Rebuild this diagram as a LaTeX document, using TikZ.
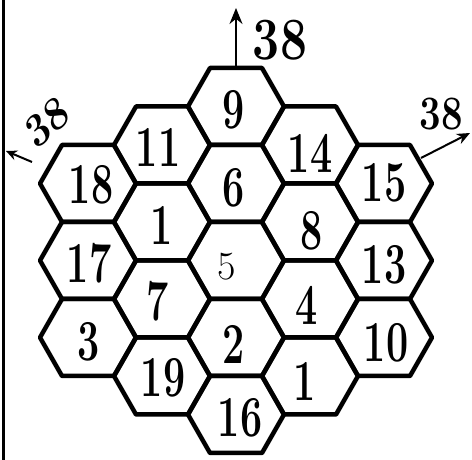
\documentclass[tikz,border=0pt]{standalone}
\usepackage{fontspec}
\usetikzlibrary{arrows.meta}

\begin{document}
\begin{tikzpicture}[
  x=1pt, y=1pt,
  >={Stealth[length=16pt,width=13pt]},
  num/.style={font=\fontsize{58}{58}\selectfont\bfseries, xscale=0.68, inner sep=0pt},
  midnum/.style={font=\fontsize{40}{40}\selectfont, inner sep=0pt},
  sumlabel/.style={font=\fontsize{60}{60}\selectfont\bfseries, xscale=0.8, inner sep=0pt},
  hexline/.style={line width=4.5pt, line join=round},
  hexcell/.pic={
    \draw[hexline] (-48,0) -- (-26,38.5) -- (26,38.5) -- (48,0)
      -- (26,-38.5) -- (-26,-38.5) -- cycle;
  },
  sumarrow/.style={->, line width=2pt},
  border/.style={line width=3pt}
]
\useasboundingbox (0,0) rectangle (472,460);

% left column
\node[num] (n18) at (91,275) {18};
\node[num] (n17) at (89,197) {17};
\node[num] (n3)  at (89,118) {3};

\node[num] (n11) at (158,313) {11};
\node[num] (n1)  at (162,235) {1};
\node[num] (n7)  at (158,159) {7};
\node[num] (n19) at (163,82)  {19};

% middle column
\node[num] (n9)  at (234,350) {9};
\node[num] (n6)  at (234,272) {6};
\node[midnum] (n5) at (227,193) {5};
\node[num] (n2)  at (234,116) {2};
\node[num] (n16) at (240,42)  {16};

% right column
\node[num] (n14) at (310,307) {14};
\node[num] (n8)  at (312,229) {8};
\node[num] (n4)  at (307,155) {4};
\node[num] (n12) at (305,79)  {1};

\node[num] (n15) at (384,277) {15};
\node[num] (n13) at (384,195) {13};
\node[num] (n10) at (386,117) {10};

\foreach \c/\x/\y in {n18/88/276.5, n17/88/199.5, n3/88/122.5,
    n11/162/315, n1/162/238, n7/162/161, n19/162/84,
    n9/236/353.5, n6/236/276.5, n5/236/199.5, n2/236/122.5, n16/236/45.5,
    n14/310/315, n8/310/238, n4/310/161, n12/310/84,
    n15/384/276.5, n13/384/199.5, n10/384/122.5}
  \pic at (\x,\y) {hexcell};

% sums
\coordinate (topend) at (236,452);
\coordinate (leftend) at (6,309);
\coordinate (rightend) at (470,327);

\draw[sumarrow] (236,392) -- (topend);
\draw[sumarrow, -{Stealth[length=11pt,width=10pt]}] ([shift={(-59,23)}]n18.center) -- (leftend);
\draw[sumarrow, -{Stealth[length=13pt,width=11pt]}] ([shift={(37,25)}]n15.center) -- (rightend);

\node[sumlabel] (sumtop) at (280,420) {38};
\node[sumlabel, font=\fontsize{48}{48}\selectfont\bfseries, rotate=35] (sumleft) at (47,338) {38};
\node[sumlabel, font=\fontsize{48}{48}\selectfont\bfseries] (sumright) at (441,346) {38};

\draw[border] (3,0) -- (3,460);

\end{tikzpicture}
\end{document}
